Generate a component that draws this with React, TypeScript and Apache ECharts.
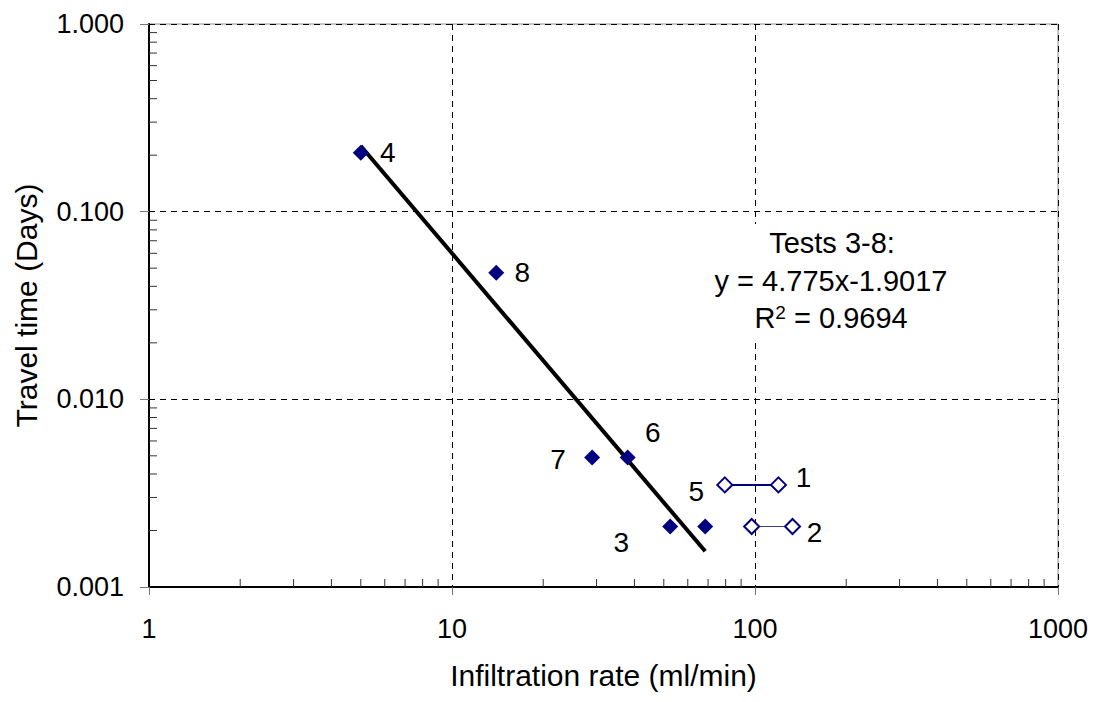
import React, { useEffect, useRef } from "react";
import * as echarts from "echarts";

// Tests 3-8 (filled diamonds)
const testLabels = ["4", "8", "7", "6", "3", "5"];
const testRate = [5.0, 14.0, 29.0, 38.0, 52.5, 68.5];
const testTime = [0.206, 0.0473, 0.0049, 0.0049, 0.0021, 0.0021];
const labelOffsets = [
  [27, 0],
  [26, 0],
  [-34, 2],
  [25, -25],
  [-49, 16],
  [-9, -35],
];

// Tests 1 and 2 (open diamonds, ranges)
const test1Rate = [79.5, 119.5];
const test1Time = [0.0035, 0.0035];
const test2Rate = [97.5, 133];
const test2Time = [0.0021, 0.0021];

// Power-law fit for tests 3-8: y = 4.775 x^-1.9017
const trendRate = [5.0, 68.5];
const trendTime = [0.224, 0.00155];

// Axis ticks
const xMajorTicks = [1, 10, 100, 1000];
const yMajorTicks = [0.001, 0.01, 0.1, 1];
const mantissas = [2, 3, 4, 5, 6, 7, 8, 9];
const xDecades = [1, 10, 100];
const yDecades = [0.001, 0.01, 0.1];

const FONT = "'Liberation Sans', Arial, sans-serif";
const NAVY = "#000080";
const FS_TICK = 27;
const FS_TITLE = 30;
const FS_NOTE = 29;
const FS_PT = 28;

export default function App() {
  const ref = useRef<HTMLDivElement>(null);

  useEffect(() => {
    if (!ref.current) return;
    const chart = echarts.init(ref.current, undefined, { renderer: "svg" });

    const xMinor: number[][] = [];
    xDecades.forEach((d) => mantissas.forEach((m) => xMinor.push([m * d, yMajorTicks[0]])));
    const yMinor: number[][] = [];
    yDecades.forEach((d) => mantissas.forEach((m) => yMinor.push([xMajorTicks[0], +(m * d).toPrecision(3)])));

    const tickLen = 8;
    const ptLabel = (text: string, off: number[]) => ({
      show: true,
      formatter: text,
      position: "inside",
      offset: off,
      fontSize: FS_PT,
      color: "#000",
      fontFamily: FONT,
    });

    const option: any = {
      animation: false,
      backgroundColor: "#ffffff",
      textStyle: { fontFamily: FONT },
      grid: {
        left: 149,
        top: 24,
        right: 42,
        bottom: 115,
        show: true,
        borderColor: "#8c8c8c",
        borderWidth: 1,
        backgroundColor: "transparent",
      },
      xAxis: {
        type: "log",
        logBase: 10,
        min: 1,
        max: 1000,
        name: "Infiltration rate (ml/min)",
        nameLocation: "middle",
        nameGap: 73,
        nameTextStyle: { fontSize: FS_TITLE, color: "#000", fontFamily: FONT },
        axisLine: { show: true, onZero: false, lineStyle: { color: "#000", width: 2 } },
        axisTick: { show: true, inside: false, length: 8, lineStyle: { color: "#777", width: 1 } },
        axisLabel: {
          fontSize: FS_TICK,
          color: "#000",
          margin: 28,
          fontFamily: FONT,
          formatter: (v: number) => String(Math.round(v)),
        },
        splitLine: { show: true, lineStyle: { color: "#000", type: [6, 5], width: 1 } },
        minorTick: { show: false },
      },
      yAxis: {
        type: "log",
        logBase: 10,
        min: 0.001,
        max: 1,
        name: "Travel time (Days)",
        nameLocation: "middle",
        nameGap: 108,
        nameTextStyle: { fontSize: FS_TITLE, color: "#000", fontFamily: FONT },
        axisLine: { show: true, onZero: false, lineStyle: { color: "#000", width: 2 } },
        axisTick: { show: true, inside: false, length: 9, lineStyle: { color: "#777", width: 1 } },
        axisLabel: {
          fontSize: FS_TICK,
          color: "#000",
          margin: 25,
          fontFamily: FONT,
          formatter: (v: number) => Number(v).toFixed(3),
        },
        splitLine: { show: true, lineStyle: { color: "#000", type: [6, 5], width: 1 } },
      },
      graphic: [
        {
          type: "rect",
          shape: { x: 703, y: 224, width: 256, height: 114 },
          style: { fill: "#ffffff" },
          z: 1,
          silent: true,
        },
        {
          type: "text",
          x: 832,
          y: 243,
          z: 3,
          style: {
            text: "Tests 3-8:",
            fill: "#000",
            font: `${FS_NOTE}px ${FONT}`,
            textAlign: "center",
            textVerticalAlign: "middle",
          },
        },
        {
          type: "text",
          x: 831,
          y: 281,
          z: 3,
          style: {
            text: "y = 4.775x-1.9017",
            fill: "#000",
            font: `${FS_NOTE}px ${FONT}`,
            textAlign: "center",
            textVerticalAlign: "middle",
          },
        },
        {
          type: "text",
          x: 831,
          y: 318,
          z: 3,
          style: {
            text: "R{sup|2} = 0.9694",
            fill: "#000",
            font: `${FS_NOTE}px ${FONT}`,
            textAlign: "center",
            textVerticalAlign: "middle",
            rich: {
              sup: { fontSize: 19, fontFamily: FONT, verticalAlign: "top", lineHeight: 30, padding: [0, 0, 10, 0] },
            },
          },
        },
      ],
      series: [
        {
          type: "custom",
          name: "xminor",
          silent: true,
          clip: false,
          z: 5,
          data: xMinor,
          renderItem: (params: any, api: any) => {
            const p = api.coord([api.value(0), api.value(1)]);
            return {
              type: "line",
              shape: { x1: p[0], y1: p[1], x2: p[0], y2: p[1] - tickLen },
              style: { stroke: "#333", lineWidth: 1 },
            };
          },
        },
        {
          type: "custom",
          name: "yminor",
          silent: true,
          clip: false,
          z: 5,
          data: yMinor,
          renderItem: (params: any, api: any) => {
            const p = api.coord([api.value(0), api.value(1)]);
            return {
              type: "line",
              shape: { x1: p[0], y1: p[1], x2: p[0] + tickLen, y2: p[1] },
              style: { stroke: "#333", lineWidth: 1 },
            };
          },
        },
        {
          type: "line",
          name: "trend",
          data: trendRate.map((x, i) => [x, trendTime[i]]),
          showSymbol: false,
          symbol: "none",
          lineStyle: { color: "#000", width: 4 },
          z: 3,
        },
        {
          type: "scatter",
          name: "tests 3-8",
          symbol: "diamond",
          symbolSize: 16,
          itemStyle: { color: NAVY, opacity: 1 },
          z: 4,
          data: testRate.map((x, i) => ({
            value: [x, testTime[i]],
            label: ptLabel(testLabels[i], labelOffsets[i]),
          })),
        },
        {
          type: "line",
          name: "test 1",
          data: test1Rate.map((x, i) => ({
            value: [x, test1Time[i]],
            label: i === 1 ? ptLabel("1", [25, -7]) : { show: false },
          })),
          symbol: "emptyDiamond",
          symbolSize: 15,
          lineStyle: { color: NAVY, width: 2 },
          itemStyle: { color: NAVY, borderWidth: 2, borderColor: NAVY, opacity: 1 },
          z: 4,
        },
        {
          type: "line",
          name: "test 2",
          data: test2Rate.map((x, i) => ({
            value: [x, test2Time[i]],
            label: i === 1 ? ptLabel("2", [22, 6]) : { show: false },
          })),
          symbol: "emptyDiamond",
          symbolSize: 15,
          lineStyle: { color: "#3b3b98", width: 1 },
          itemStyle: { color: NAVY, borderWidth: 2, borderColor: NAVY, opacity: 1 },
          z: 4,
        },
      ],
    };

    chart.setOption(option);
    return () => chart.dispose();
  }, []);

  return <div ref={ref} style={{ width: 1100, height: 702, position: "absolute", left: 0, top: 0 }} />;
}
